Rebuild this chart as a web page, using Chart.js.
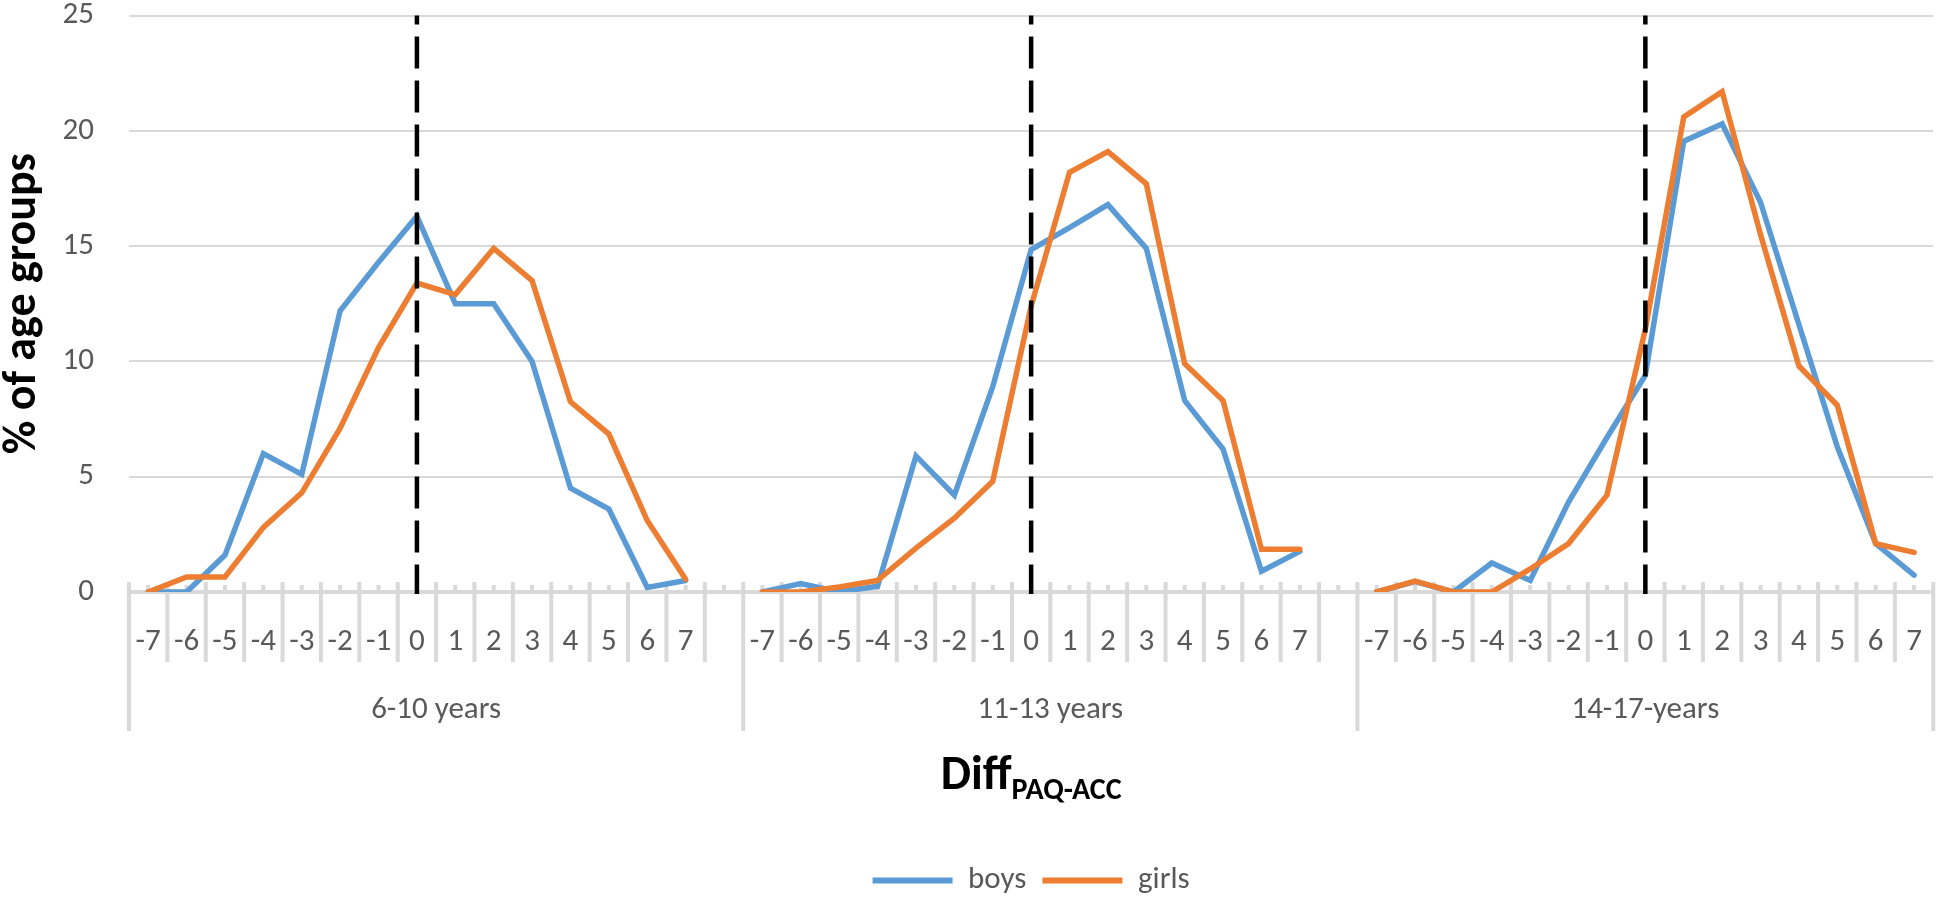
<!DOCTYPE html>
<html><head><meta charset="utf-8">
<script src="https://cdn.jsdelivr.net/npm/chart.js@4.4.1/dist/chart.umd.min.js"></script>
<style>html,body{margin:0;padding:0;background:#fff;}#wrap{width:1946px;height:898px;position:relative;}canvas{display:block;}</style>
</head><body><div id="wrap"><canvas id="c" width="1946" height="898" style="width:1946px;height:898px"></canvas></div>
<script>
// ---- data ----
const diffLabels = ['-7','-6','-5','-4','-3','-2','-1','0','1','2','3','4','5','6','7'];
const groupNames = ['6-10 years','11-13 years','14-17-years'];
const boys1  = [0,0,1.6,6.0,5.1,12.2,14.3,16.3,12.5,12.5,10.0,4.5,3.6,0.2,0.5];
const girls1 = [0,0.65,0.65,2.8,4.3,7.1,10.6,13.4,12.9,14.9,13.5,8.25,6.85,3.1,0.55];
const boys2  = [0,0.37,0,0.25,5.9,4.2,8.9,14.85,15.8,16.8,14.9,8.3,6.2,0.9,1.76];
const girls2 = [0,0,0.22,0.5,1.9,3.2,4.8,12.4,18.2,19.1,17.7,9.9,8.3,1.85,1.85];
const boys3  = [0,0.45,0,1.26,0.5,3.9,6.7,9.4,19.55,20.3,16.9,11.6,6.3,2.1,0.73];
const girls3 = [0,0.47,0,0,1.0,2.1,4.2,11.4,20.6,21.7,15.5,9.8,8.1,2.1,1.72];
const yTicks = [0,5,10,15,20,25];

// ---- build category table (blank slot after each group except last) ----
const labels = [];
const boysData = [];
const girlsData = [];
const groupStarts = [];
const zeroIdx = [];
[[boys1,girls1],[boys2,girls2],[boys3,girls3]].forEach(([b,g],gi)=>{
  groupStarts.push(labels.length);
  zeroIdx.push(labels.length + diffLabels.indexOf('0'));
  diffLabels.forEach((l,i)=>{labels.push(l);boysData.push(b[i]);girlsData.push(g[i]);});
  if (gi < 2) {labels.push('');boysData.push(null);girlsData.push(null);}
});

const FONT = 'Carlito, Lato, sans-serif';
const GRAY = '#595959';
const AX = '#d9d9d9';

const deco = {
  id:'deco',
  beforeDatasetsDraw(chart){
    const {ctx, chartArea, scales:{x,y}} = chart;
    const y0 = y.getPixelForValue(0);
    const n = labels.length;
    const step = x.getPixelForValue(1) - x.getPixelForValue(0);
    const p0 = x.getPixelForValue(0);
    ctx.save();
    ctx.strokeStyle = AX;
    ctx.lineWidth = 4;
    ctx.beginPath(); ctx.moveTo(chartArea.left, y0); ctx.lineTo(chartArea.right, y0); ctx.stroke();
    for (let i=0;i<=n;i++){
      const px = p0 + step*(i-0.5);
      const edge = groupStarts.includes(i) || i===n;
      ctx.beginPath(); ctx.moveTo(px, y0-10); ctx.lineTo(px, edge ? y0+139 : y0+70); ctx.stroke();
    }
    for (let i=0;i<n;i++){
      const px = x.getPixelForValue(i);
      ctx.beginPath(); ctx.moveTo(px, y0-7); ctx.lineTo(px, y0); ctx.stroke();
    }
    ctx.restore();
  },
  afterDatasetsDraw(chart){
    const {ctx, chartArea, scales:{x,y}} = chart;
    const y0 = y.getPixelForValue(0);
    ctx.save();
    ctx.strokeStyle = '#000';
    ctx.lineWidth = 4.5;
    ctx.lineCap = 'butt';
    ctx.setLineDash([32,12]);
    ctx.lineDashOffset = 23;
    zeroIdx.forEach(i=>{
      const px = x.getPixelForValue(i);
      ctx.beginPath(); ctx.moveTo(px, chartArea.top); ctx.lineTo(px, y0+2); ctx.stroke();
    });
    ctx.restore();
  },
  afterDraw(chart){
    const {ctx, chartArea, scales:{x,y}} = chart;
    const y0 = y.getPixelForValue(0);
    const step = x.getPixelForValue(1) - x.getPixelForValue(0);
    ctx.save();
    ctx.fillStyle = GRAY;
    ctx.font = '31px ' + FONT;
    ctx.textAlign = 'center';
    ctx.textBaseline = 'middle';
    groupNames.forEach((g,gi)=>{
      const s = groupStarts[gi];
      const e = gi < groupStarts.length-1 ? groupStarts[gi+1] : labels.length;
      const left = x.getPixelForValue(s) - step/2;
      const right = x.getPixelForValue(e-1) + step/2;
      ctx.fillText(g, (left+right)/2, y0+118);
    });
    // x title with subscript
    ctx.fillStyle = '#000';
    ctx.textAlign = 'left';
    ctx.textBaseline = 'alphabetic';
    const mainF = 'bold 48px ' + FONT, subF = 'bold 30px ' + FONT;
    ctx.font = mainF; const w1 = ctx.measureText('Diff').width;
    ctx.font = subF; const w2 = ctx.measureText('PAQ-ACC').width;
    const cx = (chartArea.left + chartArea.right)/2;
    const sx = cx - (w1+w2)/2;
    ctx.font = mainF; ctx.fillText('Diff', sx, y0+197);
    ctx.font = subF; ctx.fillText('PAQ-ACC', sx + w1, y0+207);
    ctx.restore();
  }
};

new Chart(document.getElementById('c'), {
  type:'line',
  data:{
    labels: labels,
    datasets:[
      {label:'boys', data: boysData, borderColor:'#5B9BD5', backgroundColor:'#5B9BD5', borderWidth:5.5, pointRadius:0, spanGaps:false, borderCapStyle:'round', order:2, tension:0},
      {label:'girls', data: girlsData, borderColor:'#ED7D31', backgroundColor:'#ED7D31', borderWidth:5.5, pointRadius:0, spanGaps:false, borderCapStyle:'round', order:1, tension:0}
    ]
  },
  options:{
    responsive:false,
    maintainAspectRatio:false,
    animation:false,
    devicePixelRatio:1,
    layout:{padding:{left:0,right:7,top:15.5,bottom:-8}},
    plugins:{
      tooltip:{enabled:false},
      legend:{
        position:'bottom', fullSize:false,
        labels:{
          font:{size:31, family:FONT}, color:GRAY, boxWidth:80, boxHeight:6, padding:16,
          sort:(a,b)=>a.datasetIndex-b.datasetIndex,
          generateLabels:(chart)=>chart.data.datasets.map((d,i)=>({text:d.label, fillStyle:d.borderColor, strokeStyle:d.borderColor, fontColor:GRAY, lineWidth:0, datasetIndex:i, hidden:false}))
        }
      }
    },
    scales:{
      x:{
        type:'category', offset:true,
        grid:{display:false}, border:{display:false},
        ticks:{autoSkip:false, maxRotation:0, minRotation:0, font:{size:31, family:FONT}, color:GRAY, padding:24},
        afterFit:(s)=>{s.height = 257;}
      },
      y:{
        min:0, max:25,
        afterBuildTicks:(s)=>{s.ticks = yTicks.map(v=>({value:v}));},
        grid:{color:AX, lineWidth:2, drawTicks:false}, border:{display:false},
        ticks:{font:{size:31, family:FONT, lineHeight:1}, color:GRAY, padding:35},
        title:{display:true, text:'% of age groups', color:'#000', font:{size:46, weight:'bold', family:FONT, lineHeight:1.0}, padding:{top:0,bottom:0}},
        afterFit:(s)=>{s.width = 129; s.paddingTop = 0; s.paddingBottom = 0;}
      }
    }
  },
  plugins:[deco]
});
</script></body></html>
